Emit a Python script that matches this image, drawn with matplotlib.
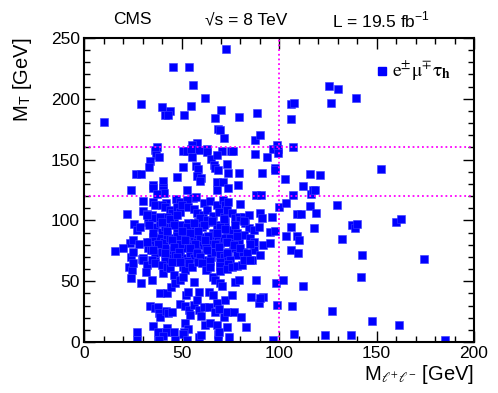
import numpy as np
import matplotlib
matplotlib.use("Agg")
import matplotlib.pyplot as plt
from matplotlib.ticker import MultipleLocator

plt.rcParams['font.family'] = ['Liberation Sans', 'DejaVu Sans']
plt.rcParams['mathtext.fontset'] = 'stix'

# ---- data: (M_ll, M_T) in GeV ----
mll_upper = [72.9,45.4,53.8,56,62,29.4,39.9,44,41.6,43.3,51.2,54.8,70.2,67.4,79.4,88.5,10.4,68.7,69.8,72,87.8,90,57.9,55.5,37.3,36.5,37.1,38.7,51,52.7,55,58.9,63,63,70.9,75.2,76.4,55.3,65.2,68.1,87.8,93.8,96.7,98.9,99.3,99.6,34,33.5,26.5,29.1,50.8,57.5,58.7,66.8,67.1,68.5,73.3,74.1,79.4,91.4,97.7,97.9,57.7,59.9,59.7,47.6,40.6,68.1,71.5,35.4,35.4,40.7,24.1,53,74,79,40.7,41.1,37.3]
mt_upper = [241,226,226,211,201,196,193.5,190,187,187,187,194,191,184,185,188,181,175,174,168,166,170,164,162,160,158,153.5,152,157,157,159,158,159,156,157,157,157,152,150.5,153.5,155,152,159,162,158.5,155.7,149,143.6,138,138,143.6,144.7,142.5,145.8,143.3,141.4,146,139,139,139,142.8,141.4,136.8,135,132.4,135.7,132,131.3,131.8,129,126.4,127,125,124.7,127,129,125,122.8,121.7]

mll_mid1 = [88.4,90.9,55.8,57.4,68.2,30.0,35.4,41.8,47.4,49.3,52.7,61.3,64.7,68.2,71.1,72.4,74.1,80.1,
            21.9,30.5,32.2,34.8,36.5,39.9,41.6,44.2,45.0,47.6,49.3,50.2,53.3,56.2,58.2,61,63,65.9,69,71.6,73.3,75.9,77.6,79.3,81.8,84.4,90.4,91.3,96.4,
            25.7,27.1,28.8,33,34.8,36.5,39,39.9,41.6,42.5,45,46.2,47.6,49.3,50.2,53.3,54.5,56.2,58.7,60.4,62.2,63.9,66.1,68.2,70.4,72.4,73.3,75.9,78.4,82.7,84.4,87,89.6,95.5,98.1]
mt_mid1 = [120.8,120.8,118.1,119.5,124.9,116.2,115,114.3,117.3,115.3,116.7,114.5,116.2,112.6,116.7,112.6,115.3,113.4,
           105.5,107.9,104.9,104.4,112.6,112.6,111.2,108.5,105.8,111.2,107.1,112.6,111.2,109,105.8,104.4,108.5,103.6,107.1,103,108.5,105.8,101.6,103,103,104.4,105.8,101.6,103,
           96.7,92.1,94.8,98.9,101.6,94.8,97.5,90.7,94.8,103,97.5,100.8,92.1,96.2,89.3,97.5,93.4,89.3,98.9,94.8,97.5,98.9,89.3,96.2,93.4,98.9,90.7,92.1,89.3,97.5,93.4,92.1,94.8,90.7,91.5]

mll_mid2 = [23.6,25.3,28.3,33.9,35.6,39,40.8,42.8,44.2,45.9,47.6,49.3,51.4,53.6,54.5,56.2,57.9,59.6,61,62.2,63.9,65.6,66.8,68.5,69.9,71.6,72.9,75,76.7,79.3,81.8,85.3,87,91.8,95.2,
            15.9,20.2,24,25.3,29.6,33,34.4,36.5,39.9,41.6,43.3,45.5,46.7,49,50.2,52.4,54.5,56.2,57.5,59.2,61.3,62.7,65.1,67.3,69.9,71.9,74.1,76.4,78.4,81.3,83.6,86.1,87,90.1]
mt_mid2 = [81.1,83.8,80.8,82.5,86.6,85.2,82.5,87.9,85.2,81.1,86.6,82.5,85.2,87.9,81.1,85.2,82.5,86.6,79.7,83.8,85.2,82.5,87.9,84.4,81.1,85.2,82.5,85.2,81.1,83.8,87.9,85.2,82.5,79.7,81.6,
           75.1,77,70.1,74.2,68.2,77,75.6,72.9,74.2,77,70.1,75.6,71.5,74.2,68.8,77,72.9,68.8,75.6,71.5,67.4,77,70.1,74.2,71.5,69.6,74.2,77,71.5,74.2,68.8,67.4,75.6,71.5]

# extra points of the dense core
mll_core = [32.2,39.1,44.2,47.6,59.6,63,71.6,80.1,
            33.1,39.9,45.9,52.7,56.2,61.3,65.5,69.8,77.6,81.8,
            35.6,42.5,47.6,50.2,54.4,58.7,63.8,68.2,72.4,78.4,
            32.2,38.2,45,49.3,51.9,57,62.1,67.3,73.3,76.7,85.2,
            35.6,41.6,45.9,48.5,54.4,57.9,63,69,73.3,80.1,83.5,
            30.5,36.5,41.6,47.6,52.7,59.6,64.7,69.8,74.9,
            42.5,51,63,69.8,74.1]
mt_core = [104.5,102.5,101.5,104.5,101.8,100.5,101.5,100.2,
           96.2,98.5,96.2,94.5,98,96.2,99.5,94.5,96.2,99.5,
           89.4,91.5,87.5,91.2,89.4,91.5,87.2,89.4,92.8,87.5,
           82.5,80.5,84,80.2,83.5,80.5,84.2,80.5,82.5,79.5,80.5,
           75.7,73.5,77.8,73.8,77.2,73.5,75.7,78.2,73.2,77.2,73.5,
           68.8,67,66.5,69.5,66.5,69.8,66.5,66,67.8,
           60.6,62,60.6,62.5,64.5]

mll_low1 = [23.3,24.5,24,25.3,30.5,32.2,31.8,34.8,36.5,39.9,40.4,42.5,44.2,45,45.9,49.3,51.9,53.6,55.3,58.7,60.4,62.7,64.7,66.4,69.9,73.3,75.9,78.4,81,81.8,85.3,
            29.3,34.8,39,42.8,44.5,46.7,49.3,51,52.4,53.1,56.2,59.2,63.9,66.1,67.3,69.9,70.7,72.4,75.9,77.6,79.3,85.6,88.4,91.8,98.5]
mt_low1 = [61.9,59.2,52.3,65.2,67.4,63.3,57.8,67.4,64.7,63.3,56.4,61.9,60.5,66,55.1,66,59.2,64.7,61.9,66,64.7,59.2,61.9,53.7,58.6,59.7,61.9,62.5,63.3,67.4,67.4,
           48.8,51,40,40,45.5,48.2,51,53.2,38.6,41.4,49.6,41.4,41.4,38.6,51,48.2,46,34.5,38.6,49.6,51,36.7,51,37.3,48.2]

mll_low2 = [33.9,36.5,38.2,38.7,39,42.1,43.3,45,49.3,51.9,53.6,54.5,56.2,57.9,59.2,59.9,61.3,63.9,67.3,68.2,69,71.6,73.3,77.1,80.5,83.2,89.6,90.4,99,
            35.3,42.8,51.9,53.1,62.2,64.7,68.2,73.3,51.4,
            27,37.8,42,46.4,40.6,50.8,59.1,59.9,68.7,69.3,74.3,
            27,37.8,38.5,46.9,53,68.7,96.7,185]
mt_low2 = [29.6,27.7,29,24.1,20.8,25.5,23.6,24.9,31,29.6,26.3,22.2,30.4,34.5,26.3,21.4,29,29,24.9,31.8,26.8,20.8,24.9,24.9,20.8,12.6,31.8,35.9,30.4,
           13.2,11.2,15.3,10.4,14,15.3,14,12.6,8.5,
           8.5,8.5,8.5,8.5,5.2,6.6,4.4,5.5,6.6,8.5,3.8,
           1.5,1.5,1.5,1.5,1.5,1.5,1.4,1.4]

mll_right = [125.5,130.2,126.7,139.7,106,107.7,106.3,107,152.5,102.9,116.1,120.9,112.1,116.4,117.4,118.4,107.3,100.2,103.4,115.9,129.9,109.4,111.1,119,106,118.1,137.6,138.8,140.2,159.9,162.4,103.4,109,110.4,132.3,106.3,109.7,142.4,174.5,102,112.5,142.1,106.8,127.4,147.6,161.4,107.7,123.6,137.1]
mt_right = [210.8,207.8,196.8,200.9,196,196.8,183,160,142,134,138.4,137,128.3,122,125,124.7,121,111,114,111.8,112.4,105.5,105.5,106.4,94.3,94,96.5,93.5,97,98.7,101.4,87.4,87.4,84.1,85,75.9,72.9,71.5,68.3,51.2,45.8,53.5,29.9,25.8,17.3,14,6.9,5.5,6]

mll = np.concatenate([mll_upper, mll_mid1, mll_mid2, mll_core, mll_low1, mll_low2, mll_right])
mt = np.concatenate([mt_upper, mt_mid1, mt_mid2, mt_core, mt_low1, mt_low2, mt_right])

mt_cuts = [120, 160]
mll_cut = 100

fig = plt.figure(figsize=(4.98, 3.93), dpi=100)
ax = fig.add_axes([84/498, 51/393, 390/498, 304/393])

ax.plot(mll, mt, ls='none', marker='s', ms=5.1, color='#0000ff', mec='#3a3aff', mew=0.4)

for c in mt_cuts:
    ax.plot([0, 200], [c, c], color='#ff00ff', lw=1.3, ls=(0, (1, 1.6)))
ax.plot([mll_cut, mll_cut], [0, 250], color='#ff00ff', lw=1.3, ls=(0, (1, 1.6)))

ax.set_xlim(0, 200)
ax.set_ylim(0, 250)
ax.xaxis.set_major_locator(MultipleLocator(50))
ax.xaxis.set_minor_locator(MultipleLocator(10))
ax.yaxis.set_major_locator(MultipleLocator(50))
ax.yaxis.set_minor_locator(MultipleLocator(10))
ax.tick_params(which='both', direction='in', top=True, right=True, labelsize=12.5, width=1.0, pad=3)
ax.tick_params(which='major', length=8)
ax.tick_params(which='minor', length=4)
for s in ax.spines.values():
    s.set_linewidth(1.5)

fig.text(474/498, 1 - 375/393, r'M$_{\ell^{+}\ell^{-}}$ [GeV]', ha='right', va='center', fontsize=14.5)
fig.text(22/498, 1 - 38/393, r'M$_{\mathregular{T}}$ [GeV]', ha='center', va='top', rotation=90, fontsize=14.5)

fig.text(132/498, 1 - 20/393, 'CMS', ha='center', va='center', fontsize=12.5)
fig.text(246/498, 1 - 20/393, '\u221as = 8 TeV', ha='center', va='center', fontsize=12.5)
fig.text(381/498, 1 - 20/393, r'L = 19.5 fb$^{\mathregular{-1}}$', ha='center', va='center', fontsize=12.5)

# legend
ax.plot([0.763], [0.891], transform=ax.transAxes, ls='none', marker='s', ms=5.1, color='#0000ff')
ax.text(0.79, 0.891, r'$\mathrm{e}^{\pm}\mathrm{\mu}^{\mp}\mathrm{\tau}_{\mathbf{h}}$', transform=ax.transAxes,
        ha='left', va='center', fontsize=14)

fig.savefig('out.png', dpi=100)
